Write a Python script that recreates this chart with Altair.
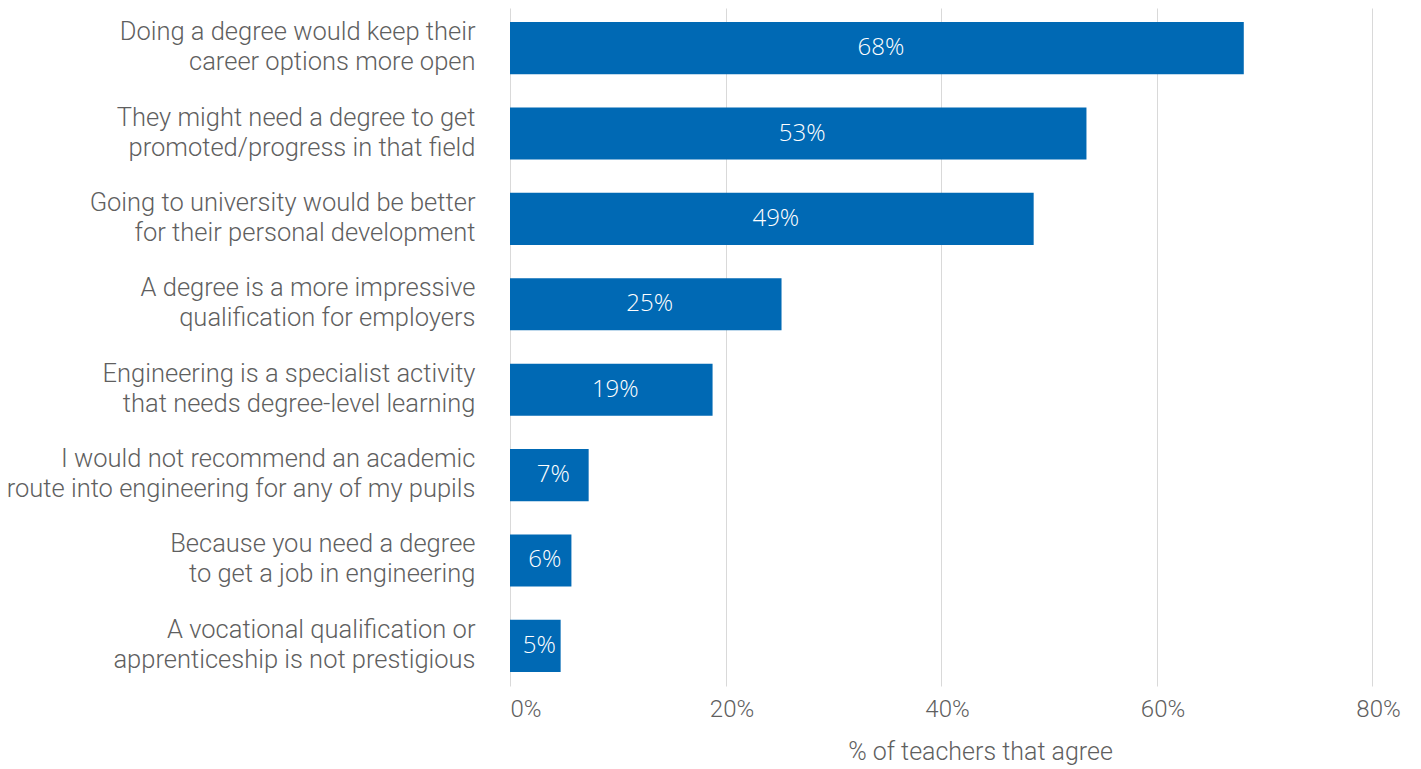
import altair as alt
import pandas as pd

categories = [
    "Doing a degree would keep their|career options more open",
    "They might need a degree to get|promoted/progress in that field ",
    "Going to university would be better|for their personal development",
    "A degree is a more impressive|qualification for employers",
    "Engineering is a specialist activity|that needs degree-level learning",
    "I would not recommend an academic|route into engineering for any of my pupils",
    "Because you need a degree|to get a job in engineering",
    "A vocational qualification or|apprenticeship is not prestigious",
]
values = [68.1, 53.5, 48.6, 25.2, 18.8, 7.3, 5.7, 4.7]
value_labels = ["68%", "53%", "49%", "25%", "19%", "7%", "6%", "5%"]

df = pd.DataFrame({"cat": categories, "val": values, "lab": value_labels})

BLUE = "#0069b4"
GREY = "#5f5f5f"

y_enc = alt.Y(
    "cat:N",
    sort=categories,
    title=None,
    scale=alt.Scale(paddingInner=0.39, paddingOuter=0.165),
    axis=alt.Axis(
        labelExpr="split(datum.label, '|')",
        labelFont="Roboto",
        labelFontWeight=300,
        labelFontSize=25.5,
        labelLineHeight=30,
        labelColor=GREY,
        labelPadding=35,
        labelOffset=-16,
        labelLimit=1000,
        ticks=False,
        domain=False,
        grid=False,
    ),
)

x_enc = alt.X(
    "val:Q",
    title="% of teachers that agree",
    scale=alt.Scale(domain=[0, 80], nice=False),
    axis=alt.Axis(
        values=[0, 20, 40, 60, 80],
        labelExpr="datum.value + '%'",
        labelFont="Roboto",
        labelFontWeight=300,
        labelFontSize=24,
        labelColor=GREY,
        labelPadding=11,
        labelAlign={"condition": {"test": "datum.value == 0", "value": "left"}, "value": "center"},
        labelOffset={"condition": {"test": "datum.value == 0", "value": 0}, "value": 6},
        labelFlush=False,
        titleFont="Roboto",
        titleFontWeight=300,
        titleFontSize=25,
        titleColor=GREY,
        titlePadding=18,
        titleX=470,
        titleAlign="center",
        ticks=False,
        domain=False,
        grid=True,
        gridColor="#d9d9d9",
        gridWidth=1,
    ),
)

bars = alt.Chart(df).mark_bar(color=BLUE).encode(x=x_enc, y=y_enc)

text = alt.Chart(df).mark_text(
    color="white", font="Open Sans", fontWeight=300, fontSize=24, align="center",
    baseline="middle", dx=4
).encode(
    x=alt.X("mid:Q"),
    y=alt.Y("cat:N", sort=categories),
    text="lab:N",
).transform_calculate(mid="datum.val / 2")

chart = (
    alt.layer(bars, text)
    .properties(
        width=862,
        height=678,
        padding={"left": 502, "top": 0, "right": 40, "bottom": 90},
        autosize=alt.AutoSizeParams(type="none"),
    )
    .configure_view(stroke=None)
)

chart.save("out.html", embed_options={"renderer": "svg", "actions": False})
